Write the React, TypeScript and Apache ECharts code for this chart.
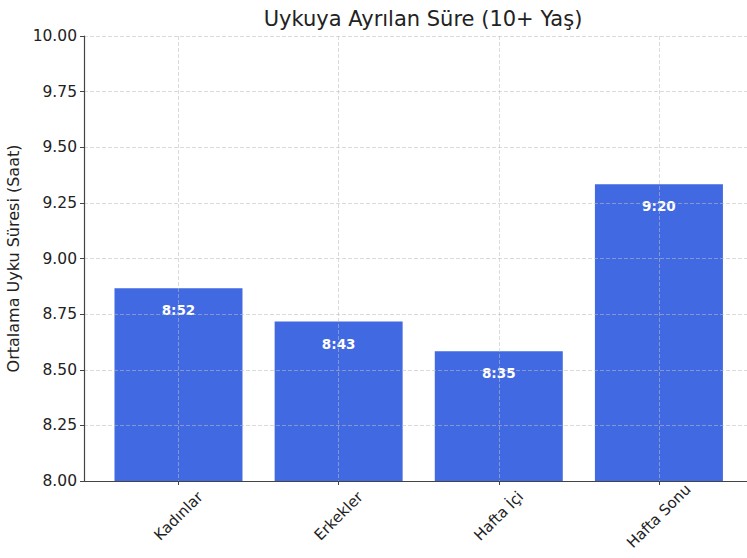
import React, { useEffect, useRef } from "react";
import * as echarts from "echarts";

// Average sleep duration (hours) for people aged 10+
const categories = ["Kadınlar", "Erkekler", "Hafta İçi", "Hafta Sonu"];
const sleepHours = [8 + 52 / 60, 8 + 43 / 60, 8 + 35 / 60, 9 + 20 / 60];
const sleepLabels = ["8:52", "8:43", "8:35", "9:20"];
const yTicks = { min: 8, max: 10, step: 0.25 };

const FONT = "DejaVu Sans, sans-serif";
const GRID_COLOR = "rgba(190,190,190,0.55)";

export default function App() {
  const ref = useRef<HTMLDivElement>(null);

  useEffect(() => {
    if (!ref.current) return;
    const chart = echarts.init(ref.current, undefined, { renderer: "svg" });
    const positions = categories.map((_, i) => i);

    chart.setOption({
      animation: false,
      backgroundColor: "#ffffff",
      textStyle: { fontFamily: FONT },
      title: {
        text: "Uykuya Ayrılan Süre (10+ Yaş)",
        left: 418,
        textAlign: "center",
        top: 3,
        textStyle: { fontFamily: FONT, fontSize: 21, fontWeight: "normal", color: "#222" },
      },
      grid: {
        left: 84,
        right: 0,
        top: 36,
        bottom: 77,
        containLabel: false,
        outerBoundsMode: "none",
      },
      xAxis: {
        type: "value",
        min: -0.59,
        max: 3.55,
        z: 5,
        axisLine: { show: true, onZero: false, lineStyle: { color: "#444", width: 1.2 } },
        axisTick: { show: true, customValues: positions, length: 4, lineStyle: { color: "#444" } },
        axisLabel: {
          customValues: positions,
          formatter: (v: number) => categories[Math.round(v)] ?? "",
          rotate: 45,
          align: "center",
          verticalAlign: "middle",
          margin: 35,
          fontFamily: FONT,
          fontSize: 15,
          color: "#222",
        },
        splitLine: { show: true, lineStyle: { color: GRID_COLOR, type: [4, 2], width: 1 } },
      },
      yAxis: {
        type: "value",
        min: yTicks.min,
        max: yTicks.max,
        interval: yTicks.step,
        z: 5,
        name: "Ortalama Uyku Süresi (Saat)",
        nameLocation: "middle",
        nameGap: 55,
        nameTextStyle: { fontFamily: FONT, fontSize: 16, color: "#222" },
        axisLine: { show: true, onZero: false, lineStyle: { color: "#444", width: 1.2 } },
        axisTick: { show: true, length: 4, lineStyle: { color: "#444" } },
        axisLabel: {
          formatter: (v: number) => v.toFixed(2),
          margin: 7,
          fontFamily: FONT,
          fontSize: 15.5,
          color: "#222",
        },
        splitLine: { show: true, lineStyle: { color: GRID_COLOR, type: [4, 2], width: 1 } },
      },
      series: [
        {
          type: "bar",
          barWidth: 128,
          z: 2,
          itemStyle: { color: "#4169E1" },
          data: sleepHours.map((v, i) => [i, v]),
          label: {
            show: true,
            position: "insideTop",
            distance: 15,
            formatter: (p: any) => sleepLabels[p.dataIndex],
            color: "#ffffff",
            fontWeight: "bold",
            fontSize: 13.5,
            fontFamily: FONT,
          },
        },
      ],
    });

    return () => chart.dispose();
  }, []);

  return <div ref={ref} style={{ width: 747, height: 558, position: "absolute", left: 0, top: 0 }} />;
}
